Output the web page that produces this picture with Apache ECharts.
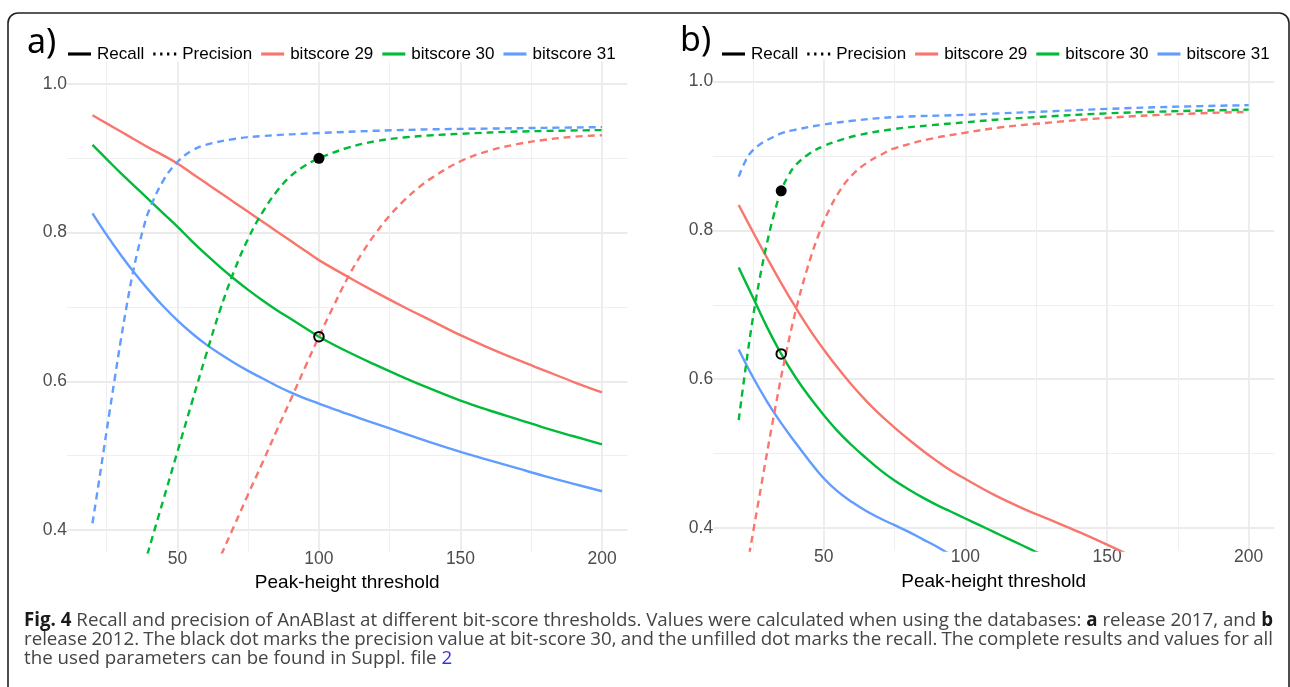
<!DOCTYPE html>
<html><head><meta charset="utf-8">
<script src="https://cdn.jsdelivr.net/npm/echarts@6/dist/echarts.min.js"></script>
<style>html,body{margin:0;padding:0;background:#fff}#c{width:1290px;height:687px}</style>
</head><body><div id="c"></div>
<script>
// ---------- DATA ----------
// Panel a (release 2017)
const aRecallX = [20,25,30,35,40,45,50,55,60,65,70,75,80,85,90,95,100,110,120,130,140,150,160,170,180,190,200];
const aRecall29 = [0.958,0.947,0.936,0.925,0.914,0.904,0.893,0.880,0.867,0.854,0.841,0.828,0.815,0.802,0.789,0.776,0.763,0.741,0.720,0.700,0.681,0.662,0.645,0.629,0.614,0.599,0.585];
const aRecall30 = [0.918,0.899,0.880,0.862,0.844,0.826,0.808,0.789,0.771,0.754,0.738,0.723,0.709,0.696,0.684,0.672,0.660,0.640,0.622,0.605,0.589,0.574,0.561,0.549,0.537,0.526,0.515];
const aRecall31 = [0.826,0.797,0.770,0.745,0.722,0.701,0.682,0.665,0.650,0.637,0.625,0.614,0.604,0.594,0.585,0.577,0.570,0.556,0.543,0.530,0.517,0.505,0.494,0.483,0.472,0.462,0.452];
const aPrec29X = [62,66,70,75,80,85,90,95,100,105,110,115,120,125,130,135,140,150,160,170,180,190,200];
const aPrec29 = [0.337,0.371,0.405,0.448,0.490,0.533,0.575,0.618,0.660,0.700,0.738,0.771,0.799,0.823,0.843,0.860,0.874,0.896,0.910,0.919,0.925,0.929,0.931];
const aPrec30X = [37,40,45,50,55,60,65,70,75,80,85,90,95,100,110,120,130,140,150,170,200];
const aPrec30 = [0.336,0.375,0.440,0.505,0.570,0.634,0.695,0.748,0.792,0.827,0.855,0.876,0.890,0.900,0.914,0.923,0.928,0.931,0.933,0.936,0.938];
const aPrec31X = [20,22,24,26,28,30,32,34,36,38,40,45,50,55,60,70,80,100,120,140,160,180,200];
const aPrec31 = [0.409,0.458,0.508,0.558,0.607,0.655,0.700,0.741,0.776,0.806,0.830,0.870,0.895,0.910,0.918,0.926,0.930,0.934,0.937,0.939,0.940,0.941,0.942];
const aMark = {x: 100, precision: 0.900, recall: 0.660};

// Panel b (release 2012)
const bRecall29X = [20,25,30,35,40,45,50,55,60,65,70,75,80,85,90,95,100,110,120,130,140,150,160];
const bRecall29 = [0.834,0.798,0.763,0.729,0.697,0.667,0.640,0.615,0.592,0.571,0.552,0.535,0.519,0.504,0.490,0.477,0.466,0.445,0.427,0.411,0.395,0.378,0.360];
const bRecall30X = [20,25,30,35,40,45,50,55,60,65,70,75,80,85,90,95,100,105,110,115,120,125,130];
const bRecall30 = [0.750,0.710,0.670,0.634,0.603,0.576,0.552,0.530,0.511,0.494,0.478,0.464,0.452,0.441,0.431,0.422,0.413,0.404,0.395,0.386,0.377,0.368,0.359];
const bRecall31X = [20,25,30,35,40,45,50,55,60,65,70,75,80,85,90,95,100];
const bRecall31 = [0.640,0.603,0.570,0.541,0.515,0.490,0.467,0.449,0.435,0.423,0.413,0.404,0.395,0.385,0.375,0.364,0.353];
const bPrec29X = [20,22,24,28,32,36,40,44,48,52,56,60,65,70,75,88,100,112,125,150,175,200];
const bPrec29 = [0.285,0.328,0.371,0.458,0.543,0.622,0.690,0.746,0.792,0.828,0.855,0.874,0.890,0.901,0.910,0.923,0.931,0.938,0.943,0.951,0.956,0.959];
const bPrec30X = [20,22.5,25,27.5,30,32.5,35,37.5,40,45,50,55,62.5,75,87.5,100,112.5,125,150,175,200];
const bPrec30 = [0.545,0.617,0.682,0.737,0.783,0.822,0.853,0.873,0.887,0.903,0.913,0.920,0.928,0.936,0.941,0.945,0.949,0.952,0.957,0.960,0.962];
const bPrec31X = [20,22,24,27,30,35,40,50,60,75,100,112,125,150,175,200];
const bPrec31 = [0.872,0.890,0.903,0.914,0.921,0.930,0.935,0.942,0.947,0.952,0.955,0.957,0.959,0.963,0.966,0.968];
const bMark = {x: 35, precision: 0.853, recall: 0.634};

// Ticks
const xMajorTicks = [50,100,150,200];
const xMinorTicks = [25,75,125,175];
const yMajorTicks = [0.4,0.6,0.8,1.0];
const yMinorTicks = [0.5,0.7,0.9];
const legendNames = ['Recall','Precision','bitscore 29','bitscore 30','bitscore 31'];
const panelLabels = ['a)','b)'];
const xTitle = 'Peak-height threshold';

// ---------- STYLE ----------
const COL = {'bitscore 29':'#F8766D','bitscore 30':'#00BA38','bitscore 31':'#619CFF'};
const FONT = '"Liberation Sans", Arial, sans-serif';
const X_RANGE = [11, 209];
const Y_RANGE = [0.37, 1.03];
const grids = [
  {left: 67, top: 61.7, width: 560.5, height: 490.5},
  {left: 713.2, top: 59, width: 561, height: 491.5}
];

function xAxes(gi) {
  return [
    {type:'value', gridIndex: gi, min: X_RANGE[0], max: X_RANGE[1], position:'bottom',
     axisLine:{show:false}, axisTick:{show:false, customValues: xMajorTicks},
     axisLabel:{customValues: xMajorTicks, fontSize: 17.5, color:'#4d4d4d', fontFamily: FONT, margin: -2},
     splitLine:{show:true, lineStyle:{color:'#ebebeb', width:1.8}},
     name: xTitle, nameLocation:'middle', nameGap: 21.5,
     nameTextStyle:{fontSize: 19, color:'#000', fontFamily: FONT}},
    {type:'value', gridIndex: gi, min: X_RANGE[0], max: X_RANGE[1], position:'top',
     axisLine:{show:false}, axisTick:{show:false, customValues: xMinorTicks},
     axisLabel:{show:false, customValues: xMinorTicks},
     splitLine:{show:true, lineStyle:{color:'#efefef', width:1}}}
  ];
}
function yAxes(gi) {
  return [
    {type:'value', gridIndex: gi, min: Y_RANGE[0], max: Y_RANGE[1], position:'left',
     axisLine:{show:false}, axisTick:{show:false, customValues: yMajorTicks},
     axisLabel:{customValues: yMajorTicks, fontSize: 17.5, color:'#4d4d4d', fontFamily: FONT, margin: 0,
       formatter: v => Number(v).toFixed(1)},
     splitLine:{show:true, lineStyle:{color:'#ebebeb', width:1.8}}},
    {type:'value', gridIndex: gi, min: Y_RANGE[0], max: Y_RANGE[1], position:'right',
     axisLine:{show:false}, axisTick:{show:false, customValues: yMinorTicks},
     axisLabel:{show:false, customValues: yMinorTicks},
     splitLine:{show:true, lineStyle:{color:'#efefef', width:1}}}
  ];
}

function lineSeries(name, xs, ys, key, dashed, gi) {
  return {type:'line', name, xAxisIndex: gi*2, yAxisIndex: gi*2,
    data: xs.map((x,i)=>[x, ys[i]]), showSymbol:false, symbol:'none',
    smooth: 0.4, clip:true, silent:true, z: dashed ? 3 : 2,
    lineStyle:{color: COL[key], width: 2.4, type: dashed ? [7,5] : 'solid', cap:'butt', join:'round'},
    itemStyle:{color: COL[key]}};
}
function markSeries(name, mark, gi) {
  return [
    {type:'scatter', name: name+' precision dot', xAxisIndex: gi*2, yAxisIndex: gi*2,
     data:[[mark.x, mark.precision]], symbol:'circle', symbolSize: 11, silent:true, z: 5,
     itemStyle:{color:'#000', opacity:1}},
    {type:'scatter', name: name+' recall dot', xAxisIndex: gi*2, yAxisIndex: gi*2,
     data:[[mark.x, mark.recall]], symbol:'circle', symbolSize: 9.5, silent:true, z: 5,
     itemStyle:{color:'rgba(0,0,0,0)', borderColor:'#000', borderWidth: 2, opacity:1}}
  ];
}

const series = [
  lineSeries('a29r', aRecallX, aRecall29, 'bitscore 29', false, 0),
  lineSeries('a30r', aRecallX, aRecall30, 'bitscore 30', false, 0),
  lineSeries('a31r', aRecallX, aRecall31, 'bitscore 31', false, 0),
  lineSeries('a29p', aPrec29X, aPrec29, 'bitscore 29', true, 0),
  lineSeries('a30p', aPrec30X, aPrec30, 'bitscore 30', true, 0),
  lineSeries('a31p', aPrec31X, aPrec31, 'bitscore 31', true, 0),
  ...markSeries('a', aMark, 0),
  lineSeries('b29r', bRecall29X, bRecall29, 'bitscore 29', false, 1),
  lineSeries('b30r', bRecall30X, bRecall30, 'bitscore 30', false, 1),
  lineSeries('b31r', bRecall31X, bRecall31, 'bitscore 31', false, 1),
  lineSeries('b29p', bPrec29X, bPrec29, 'bitscore 29', true, 1),
  lineSeries('b30p', bPrec30X, bPrec30, 'bitscore 30', true, 1),
  lineSeries('b31p', bPrec31X, bPrec31, 'bitscore 31', true, 1),
  ...markSeries('b', bMark, 1),
];
// dummy series for the legends
const legendColor = {'Recall':'#000','Precision':'#000', ...COL};
legendNames.forEach(n => series.push({type:'line', name:n, data:[], xAxisIndex:0, yAxisIndex:0,
  itemStyle:{color: legendColor[n]}, lineStyle:{color: legendColor[n]}}));

const SOLID_ICON = 'path://M0,0H22V3H0Z';
const DOT_ICON = 'path://M0,0h2.2v3h-2.2zM6.6,0h2.2v3h-2.2zM13.2,0h2.2v3h-2.2zM19.8,0h2.2v3h-2.2z';
function legend(left) {
  return {left, top: 45.5, orient:'horizontal', itemWidth: 23, itemHeight: 3.5, itemGap: 9,
    selectedMode:false, padding: 0,
    textStyle:{fontSize:17, color:'#000', fontFamily: FONT, padding:[0,0,0,1]},
    data: legendNames.map(n => ({name:n, icon: n==='Precision' ? DOT_ICON : SOLID_ICON,
      itemStyle:{color: legendColor[n], borderWidth:0}}))};
}

// ---------- CAPTION (word-level justified) ----------
const captionLines = [
  [['Fig. 4','b'],['Recall and precision of AnABlast at different bit-score thresholds. Values were calculated when using the databases:',''],['a','b'],['release 2017, and',''],['b','b']],
  [['release 2012. The black dot marks the precision value at bit-score 30, and the unfilled dot marks the recall. The complete results and values for all','']],
  [['the used parameters can be found in Suppl. file',''],['2','l']]
];
const CAP_FONT = '"Open Sans", "Noto Sans", sans-serif';
const capLeft = 24, capRight = 1273, capY = [621, 640, 659];
const mctx = document.createElement('canvas').getContext('2d');
function fontStr(kind, size){ return (kind==='b' ? 'bold ' : '') + size + 'px ' + CAP_FONT; }
function words(line){ const w=[]; line.forEach(([t,k]) => t.split(' ').forEach(s => w.push({t:s,k}))); return w; }
function measure(w, size){ mctx.font = fontStr(w.k, size); return mctx.measureText(w.t).width; }
let capSize = 16;
{
  const w0 = words(captionLines[0]);
  mctx.font = fontStr('', 10); const sp = mctx.measureText(' ').width;
  const nat = w0.reduce((s,w)=>s+measure(w,10),0) + sp*(w0.length-1);
  capSize = 10 * (capRight-capLeft) / nat;
}
const graphics = [];
captionLines.forEach((line, li) => {
  const ws = words(line);
  const widths = ws.map(w => measure(w, capSize));
  mctx.font = fontStr('', capSize); const sp = mctx.measureText(' ').width;
  let gap = sp;
  if (li < 2) gap = (capRight - capLeft - widths.reduce((a,b)=>a+b,0)) / (ws.length-1);
  let x = capLeft;
  ws.forEach((w,i) => {
    graphics.push({type:'text', x, y: capY[li], silent:true,
      style:{text: w.t, font: fontStr(w.k, capSize), fill: w.k==='b' ? '#1a1a1a' : (w.k==='l' ? '#3333e6' : '#444'),
        verticalAlign:'middle', align:'left'}});
    x += widths[i] + gap;
  });
});
// panel letters and outer frame
graphics.push({type:'text', x: 27, y: 43, silent:true,
  style:{text: panelLabels[0], font:'34px "Noto Sans", sans-serif', fill:'#000', verticalAlign:'middle'}});
graphics.push({type:'text', x: 680, y: 41, silent:true,
  style:{text: panelLabels[1], font:'34px "Noto Sans", sans-serif', fill:'#000', verticalAlign:'middle'}});
graphics.push({type:'rect', silent:true, shape:{x: 8, y: 13, width: 1281, height: 720, r: 10},
  style:{fill:'none', stroke:'#222', lineWidth: 1.6}});

const chart = echarts.init(document.getElementById('c'), null, {renderer:'canvas', width:1290, height:687});
chart.setOption({
  animation:false,
  backgroundColor:'#fff',
  grid: grids.map(g => ({...g, containLabel:false, outerBoundsMode:'none'})),
  xAxis: [...xAxes(0), ...xAxes(1)],
  yAxis: [...yAxes(0), ...yAxes(1)],
  legend: [legend(68), legend(722)],
  series,
  graphic: graphics
});
</script></body></html>
